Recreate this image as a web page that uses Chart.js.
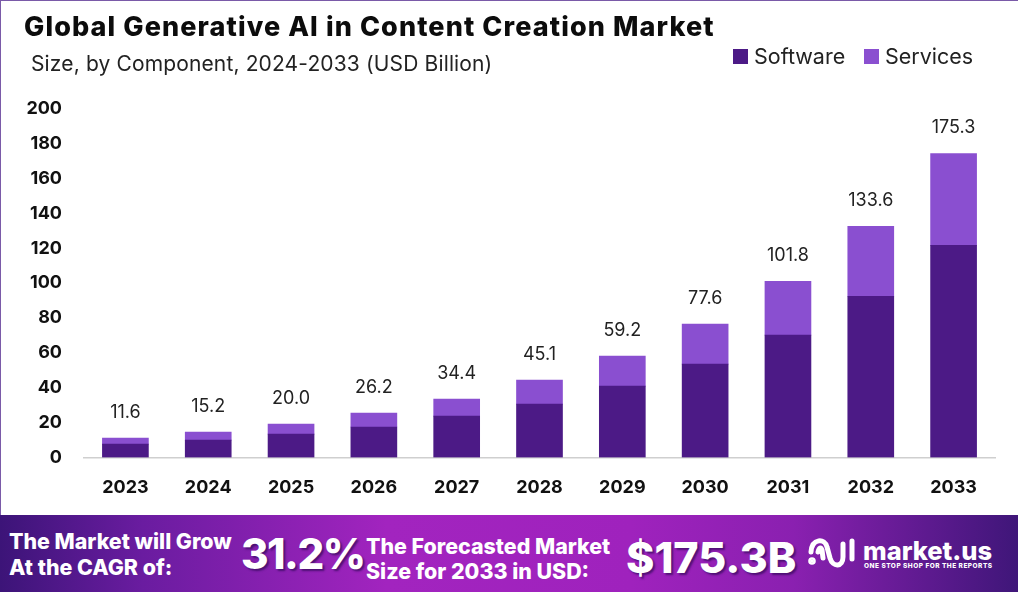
<!DOCTYPE html>
<html>
<head>
<meta charset="utf-8">
<style>
  html, body { margin: 0; padding: 0; background: #fff; }
  body { width: 1018px; height: 592px; overflow: hidden; position: relative; font-family: Inter, "Open Sans", sans-serif; color: #111; }
  #frame { position: absolute; left: 0; top: 0; width: 1018px; height: 1px; background: #7a5aa8; }
  #frameLeft { position: absolute; left: 0; top: 0; width: 1px; height: 515px; background: #7a5aa8; }
  #wrap { position: absolute; left: 0; top: 0; width: 1018px; height: 515px; }
  .t { position: absolute; white-space: nowrap; line-height: 1; }
  #title { left: 24px; top: 13px; font-size: 27px; font-weight: 800; letter-spacing: 1.1px; color: #0c0c0c; }
  #subtitle { left: 31px; top: 53px; font-size: 21px; font-weight: 400; letter-spacing: .14px; color: #222; }
  .legendBox { position: absolute; top: 49px; width: 15px; height: 15px; }
  .legendText { top: 46px; font-size: 21.5px; color: #222; }
  #banner { position: absolute; left: 0; top: 515px; width: 1018px; height: 77px; color: #fff;
    background: linear-gradient(90deg, #3c1478 0%, #6a1ca0 14%, #a224bf 38%, #9f22bd 62%, #8a20b0 78%, #3f1679 100%); }
  #banner .t { font-weight: 800; }
  .s { font-size: 21.4px; }
  .big { text-shadow: 2px 2px 2px rgba(50,10,90,.7); }
  #brandSub { font-size: 6.5px; letter-spacing: .5px; font-weight: 700; }
</style>
</head>
<body>
<div id="wrap"><canvas id="marketChart"></canvas></div>
<div id="frame"></div><div id="frameLeft"></div>
<div class="t" id="title">Global Generative AI in Content Creation Market</div>
<div class="t" id="subtitle">Size, by Component, 2024-2033 (USD Billion)</div>
<div class="legendBox" id="swatch0" style="left:733px"></div>
<div class="t legendText" id="legend0" style="left:754px"></div>
<div class="legendBox" id="swatch1" style="left:864px"></div>
<div class="t legendText" id="legend1" style="left:885px"></div>
<div id="banner">
  <div class="t s" style="left:9px;top:16px">The Market will Grow</div>
  <div class="t s" style="left:9px;top:42px">At the CAGR of:</div>
  <div class="t big" style="left:241px;top:18px;font-size:42px;letter-spacing:-1.5px">31.2%</div>
  <div class="t s" style="left:366px;top:21px">The Forecasted Market</div>
  <div class="t s" style="left:366px;top:46px">Size for 2033 in USD:</div>
  <div class="t big" style="left:626px;top:21px;font-size:43px">$175.3B</div>
  <svg style="position:absolute;left:808px;top:20px" width="48" height="36" viewBox="0 0 48 36" fill="none" stroke="#fff" stroke-width="5" stroke-linecap="round">
    <path d="M3 17 C4 3 17 3 19 12 L22 23 C25 33 35 32 35 22 L35 9"/>
    <path d="M44 6 L44 24"/>
    <path d="M10 17 C11 12 13 12 14 15 L15 23"/>
    <circle cx="4" cy="26" r="1.3" fill="#fff"/>
  </svg>
  <div class="t" style="left:863px;top:23px;font-size:25.5px">market.us</div>
  <div class="t" id="brandSub" style="left:864px;top:47.5px">ONE STOP SHOP FOR THE REPORTS</div>
</div>
<script src="https://cdn.jsdelivr.net/npm/chart.js@4/dist/chart.umd.min.js"></script>
<script>
  var years = ["2023", "2024", "2025", "2026", "2027", "2028", "2029", "2030", "2031", "2032", "2033"];
  var software = [7.7, 10, 13.4, 17.5, 23.7, 30.6, 40.9, 53.5, 70.1, 92.4, 121.6];
  var services = [3.5, 4.6, 5.8, 8, 9.8, 13.7, 17.2, 22.9, 30.9, 40.1, 52.6];
  var totals = ["11.6", "15.2", "20.0", "26.2", "34.4", "45.1", "59.2", "77.6", "101.8", "133.6", "175.3"];

  var FONT = 'Inter, "Open Sans", sans-serif';

  // totals above each stack
  var totalLabels = {
    id: "totalLabels",
    afterDatasetsDraw: function (chart) {
      var ctx = chart.ctx;
      var top = chart.getDatasetMeta(1).data;
      ctx.save();
      ctx.font = "400 18px " + FONT;
      ctx.fillStyle = "#222";
      ctx.textAlign = "center";
      ctx.textBaseline = "middle";
      top.forEach(function (bar, i) {
        ctx.fillText(totals[i], bar.x, bar.y - 25.5);
      });
      ctx.restore();
    }
  };

  var chart = new Chart(document.getElementById("marketChart"), {
    type: "bar",
    data: {
      labels: years,
      datasets: [
        { label: "Software", data: software, backgroundColor: "#4c1a86", barThickness: 46, stack: "a" },
        { label: "Services", data: services, backgroundColor: "#8a4fd0", barThickness: 46, stack: "a" }
      ]
    },
    options: {
      responsive: true,
      maintainAspectRatio: false,
      animation: false,
      devicePixelRatio: 1,
      layout: { padding: { top: 108.5, right: 23, left: 0, bottom: 0 } },
      scales: {
        x: {
          stacked: true,
          grid: { display: false, drawTicks: false },
          border: { color: "#cfcfcf", width: 1.5 },
          ticks: { color: "#111", padding: 19, maxRotation: 0, font: { family: FONT, size: 18, weight: "700" } },
          afterFit: function (s) { s.height = 57.5; }
        },
        y: {
          stacked: true,
          min: 0,
          max: 200,
          grid: { display: false, drawTicks: false },
          border: { display: false },
          ticks: { stepSize: 20, color: "#111", padding: 22, font: { family: FONT, size: 18, weight: "700" } },
          afterFit: function (s) { s.width = 84; }
        }
      },
      plugins: {
        title: { display: false },
        tooltip: { enabled: false },
        legend: { display: false }
      }
    },
    plugins: [totalLabels]
  });

  // legend sits beside the subtitle, filled from the datasets
  chart.data.datasets.forEach(function (ds, i) {
    document.getElementById("swatch" + i).style.background = ds.backgroundColor;
    document.getElementById("legend" + i).textContent = ds.label;
  });
</script>
</body>
</html>
